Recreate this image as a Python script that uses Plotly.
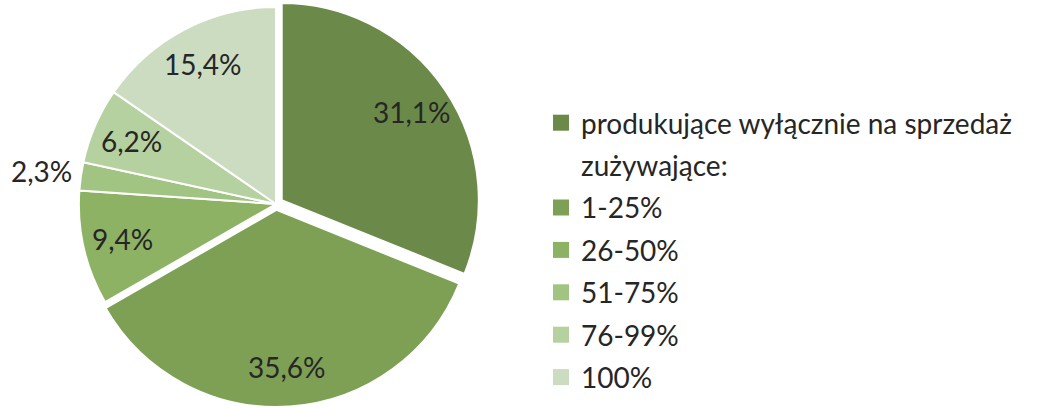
import math
import plotly.graph_objects as go

# Shares of farms by how much of their own output they use (percent)
labels = [
    "produkujące wyłącznie na sprzedaż",
    "1-25%",
    "26-50%",
    "51-75%",
    "76-99%",
    "100%",
]
values = [31.1, 35.6, 9.4, 2.3, 6.2, 15.4]
colors = ["#6b8a4a", "#7da055", "#8eb264", "#a1c483", "#b6d1a0", "#ccdcc0"]
pulls = [0.035, 0.03, 0, 0, 0, 0]
outside = [False, False, False, True, False, False]
header = "zużywające:"

FONT = "Lato"
TEXT_COLOR = "#262626"
W, H = 1038, 408
PIE_DOMAIN_X = [0, 552 / W]

fig = go.Figure()

fig.add_trace(go.Pie(
    labels=labels,
    values=values,
    sort=False,
    direction="clockwise",
    rotation=0,
    pull=pulls,
    marker=dict(colors=colors, line=dict(color="white", width=2)),
    textinfo="none",
    showlegend=False,
    hoverinfo="skip",
    automargin=False,
    domain=dict(x=PIE_DOMAIN_X, y=[0, 1]),
))

# Value labels placed along each slice's mid-angle, like spreadsheet data labels
cx = (PIE_DOMAIN_X[0] + PIE_DOMAIN_X[1]) / 2 * W
cy = H / 2
radius = min((PIE_DOMAIN_X[1] - PIE_DOMAIN_X[0]) * W, H) / 2 / (1 + max(pulls))
total = sum(values)
start = 0.0
for v, p, out in zip(values, pulls, outside):
    mid = (start + v / 2) / total * 2 * math.pi
    start += v
    dist = radius * ((1.2 if out else 0.8) + p)
    px = cx + dist * math.sin(mid)
    py = cy - dist * math.cos(mid)
    fig.add_annotation(
        x=px / W, y=1 - py / H, xref="paper", yref="paper",
        text=f"{v:.1f}%".replace(".", ","),
        showarrow=False, xanchor="center", yanchor="middle",
        font=dict(family=FONT, size=28, color=TEXT_COLOR),
    )

# Legend entries: one group per row so rows can be spaced apart,
# with the "zużywające:" heading as a marker-less row.
legend_rows = [(labels[0], colors[0])] + [(header, "rgba(0,0,0,0)")] + list(zip(labels[1:], colors[1:]))
for i, (name, col) in enumerate(legend_rows):
    fig.add_trace(go.Scatter(
        x=[None], y=[None],
        mode="markers",
        name=name,
        legendgroup=f"g{i}",
        marker=dict(symbol="square", size=16, color=col),
        hoverinfo="skip",
    ))

fig.update_layout(
    width=W,
    height=H,
    margin=dict(l=0, r=0, t=0, b=0, autoexpand=False),
    paper_bgcolor="white",
    plot_bgcolor="white",
    separators=", ",
    xaxis=dict(visible=False),
    yaxis=dict(visible=False),
    font=dict(family=FONT, color=TEXT_COLOR),
    legend=dict(
        x=541 / W,
        xanchor="left",
        y=1 - 98 / H,
        yanchor="top",
        traceorder="grouped",
        tracegroupgap=3,
        font=dict(family=FONT, size=28, color=TEXT_COLOR),
        itemsizing="trace",
        bgcolor="rgba(0,0,0,0)",
    ),
)

fig.write_html("out.html")
